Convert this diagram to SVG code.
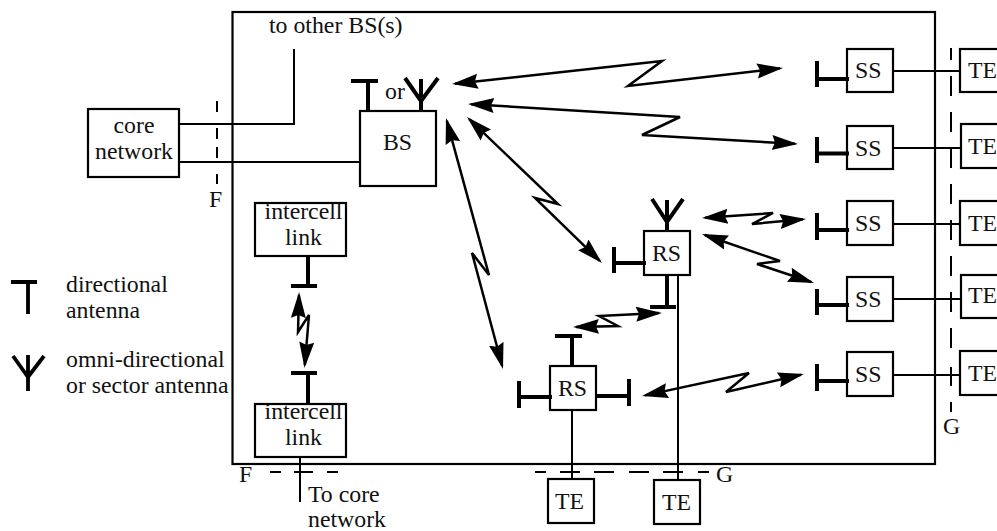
<svg xmlns="http://www.w3.org/2000/svg" width="997" height="531" viewBox="0 0 997 531">
<style>
text{font-family:"Liberation Serif","Times New Roman",serif;font-size:23.8px;fill:#111}
.b{fill:#fff;stroke:#000;stroke-width:2.2}
.l{fill:none;stroke:#000;stroke-width:2}
.d{fill:none;stroke:#000;stroke-width:2}
.a{fill:none;stroke:#000;stroke-width:4}
.z{fill:none;stroke:#000;stroke-width:2.5;marker-start:url(#h);marker-end:url(#h)}
.m{text-anchor:middle}
</style>
<defs>
<marker id="h" markerUnits="userSpaceOnUse" markerWidth="30" markerHeight="20" refX="23" refY="9" orient="auto-start-reverse"><path d="M0,1.500 L26,9 L0,16.500 L3,9z" fill="#000"/></marker>
</defs>
<rect x="232.500" y="12" width="702.500" height="452" fill="none" stroke="#000" stroke-width="2.200"/>
<g id="connectors">
<path class="l" d="M179,124H294V49M179,162H360"/>
<path class="d" d="M217,101V112M217,128V139M217,147V158M217,174V184"/>
<path class="d" d="M270,472H281M294,472H313M327,472H338"/>
<path class="l" d="M300,457V502"/>
<path class="d" d="M535,472H546M560,472H580M594,472H614M629,472H649M663,472H683M698,472H709"/>
<path class="l" d="M572,410V479M678,275V480"/>
<path class="l" d="M893,71H960M893,148H960M893,224H960M893,299H960M893,375H960"/>
<path class="d" d="M951,48V60M951,76V96M951,112V132M951,148V168M951,184V204M951,220V240M951,256V276M951,292V312M951,328V348M951,367V386M951,402V412"/>
<path class="z" d="M455,83.700L662,61L628,86L780,68.300"/>
<path class="z" d="M471,104.200L680,117L642,135L795,143.800"/>
<path class="z" d="M469.200,119.100L558,204L535,198L599.800,260.900"/>
<path class="z" d="M705,217.800L773,213L752,224L803,219.300"/>
<path class="z" d="M704.800,235L780,261L757,264L811.200,282"/>
<path class="z" d="M659,313.100L599,316L618,326L576,326.900"/>
<path class="z" d="M645,395.400L749,373L726,392L801,374.700"/>
<path class="z" d="M299,295L298,332L309,315L304.800,365"/>
<path class="z" d="M446.800,120.900L489,275L472,253L502.200,366"/>
</g>
<g id="core"><rect class="b" x="88" y="109" width="91" height="68"/><text class="m" x="134" y="133">core</text><text class="m" x="134" y="159">network</text></g>
<g id="bs"><rect class="b" x="360" y="111" width="76" height="75"/><text x="383" y="150">BS</text>
<path class="a" d="M351,81H378M368,81V111M405,78L421,101L438,78M421,79V112"/><text x="385" y="99">or</text></g>
<g id="ic1"><rect class="b" x="255" y="203" width="91" height="53"/><text class="m" x="303.500" y="219">intercell</text><text class="m" x="303.500" y="245">link</text><path class="a" d="M308,256V286M291,286H317"/></g>
<g id="ic2"><rect class="b" x="255" y="404" width="91" height="53"/><text class="m" x="303.500" y="419">intercell</text><text class="m" x="303.500" y="445">link</text><path class="a" d="M308,404V373M291,373H317"/></g>
<g id="rs1"><rect class="b" x="644" y="231" width="46" height="44"/><text x="652" y="261">RS</text><path class="a" d="M652,199L667,222L683,199M667,200V232M614,247V273M614,263H646M667,275V307M650,307H676"/></g>
<g id="rs2"><rect class="b" x="550" y="366" width="46" height="44"/><text x="558" y="396">RS</text><path class="a" d="M555,336H582M572,336V367M519,381V408M519,397H552M629,379V406M597,396H629"/></g>
<g id="ss1"><rect class="b" x="847" y="49" width="46" height="43"/><text x="855" y="78">SS</text><path class="a" d="M817,61V87M817,79H849"/></g>
<g id="ss2"><rect class="b" x="847" y="126" width="46" height="43"/><text x="855" y="156">SS</text><path class="a" d="M817,137V163M817,153.500H849"/></g>
<g id="ss3"><rect class="b" x="847" y="201" width="46" height="44"/><text x="855" y="231">SS</text><path class="a" d="M817,213V240M817,230H849"/></g>
<g id="ss4"><rect class="b" x="847" y="277" width="46" height="44"/><text x="855" y="307">SS</text><path class="a" d="M817,289V315M817,305H849"/></g>
<g id="ss5"><rect class="b" x="847" y="352" width="46" height="44"/><text x="855" y="382">SS</text><path class="a" d="M817,364V391M817,381H849"/></g>
<g id="te1"><rect class="b" x="960" y="49" width="50" height="43"/><text x="968" y="78">TE</text></g>
<g id="te2"><rect class="b" x="961" y="124" width="50" height="44"/><text x="968" y="154">TE</text></g>
<g id="te3"><rect class="b" x="960" y="201" width="50" height="44"/><text x="968" y="231">TE</text></g>
<g id="te4"><rect class="b" x="961" y="275" width="50" height="43"/><text x="968" y="303">TE</text></g>
<g id="te5"><rect class="b" x="960" y="351" width="50" height="44"/><text x="968" y="381">TE</text></g>
<g id="te6"><rect class="b" x="548" y="479" width="46" height="44"/><text x="555" y="509">TE</text></g>
<g id="te7"><rect class="b" x="654" y="480" width="46" height="44"/><text x="662" y="510">TE</text></g>
<g id="labels">
<text x="269" y="33">to other BS(s)</text>
<text x="209" y="207">F</text><text x="239" y="482">F</text><text x="716" y="482">G</text><text x="943" y="434">G</text>
<text x="308" y="502">To core</text><text x="308" y="527">network</text>
</g>
<g id="legend">
<path fill="none" stroke="#000" stroke-width="3.800" d="M11,282H37M28,282V314M13,356L28,377L44,356M28,355V391"/>
<text x="66" y="292">directional</text><text x="66" y="318">antenna</text>
<text x="66" y="367">omni-directional</text><text x="66" y="393">or sector antenna</text>
</g>
</svg>
